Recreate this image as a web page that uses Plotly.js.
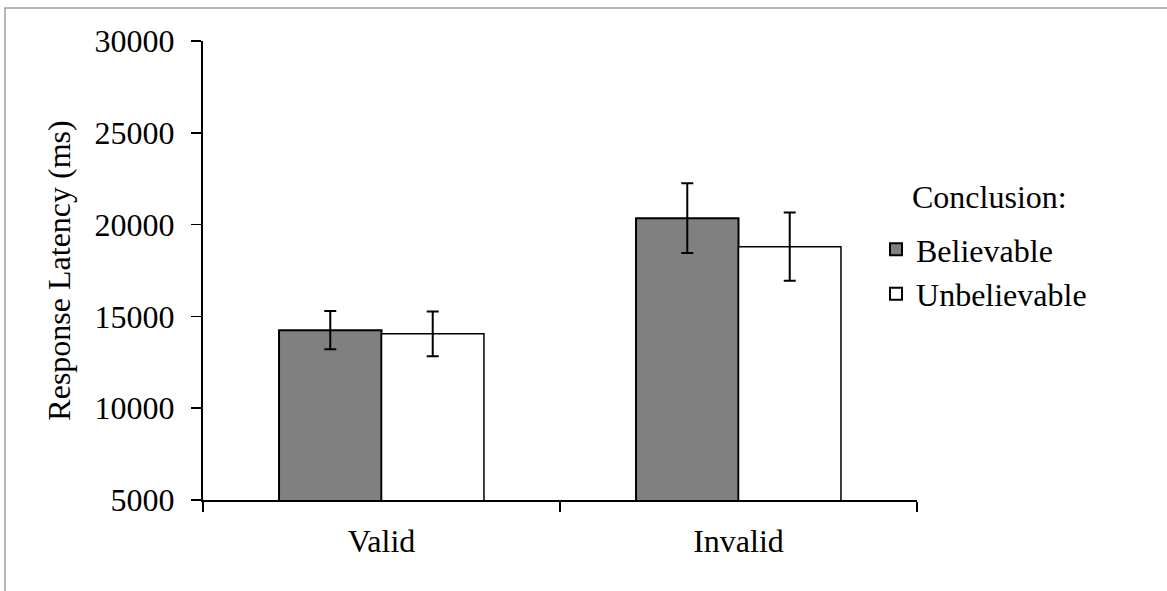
<!DOCTYPE html>
<html>
<head>
<meta charset="utf-8">
<script src="https://cdn.plot.ly/plotly-3.0.1.min.js"></script>
<style>html,body{margin:0;padding:0;background:#fff;}#chart{width:1167px;height:591px;}</style>
</head>
<body>
<div id="chart"></div>
<script>
const categories = ["Valid", "Invalid"];
const believable = [14250, 20350];
const believableErr = [1040, 1900];
const unbelievable = [14050, 18800];
const unbelievableErr = [1220, 1860];
const yTicks = [5000, 10000, 15000, 20000, 25000, 30000];
const legendTitle = "Conclusion:";

const family = "Liberation Serif, Times New Roman, serif";
const font = {family: family, size: 32, color: "#000"};

const traces = [
  {
    type: "bar", name: "Believable", x: categories, y: believable,
    marker: {color: "#808080", line: {color: "#000", width: 2}},
    error_y: {type: "data", array: believableErr, visible: true, color: "#000", thickness: 2, width: 6}
  },
  {
    type: "bar", name: "Unbelievable", x: categories, y: unbelievable,
    marker: {color: "#ffffff", line: {color: "#000", width: 1.5}},
    error_y: {type: "data", array: unbelievableErr, visible: true, color: "#000", thickness: 2, width: 6}
  }
];

const layout = {
  width: 1167, height: 591,
  margin: {l: 203, r: 250, t: 41, b: 91, pad: 0},
  paper_bgcolor: "#fff", plot_bgcolor: "#fff",
  font: font,
  barmode: "group", bargap: 0.426, bargroupgap: 0,
  showlegend: true,
  legend: {
    x: 0.9426, xanchor: "left", y: 0.606, yanchor: "top",
    font: {family: family, size: 32, color: "#000"}, bgcolor: "rgba(0,0,0,0)", traceorder: "normal",
    itemsizing: "constant", tracegroupgap: 0
  },
  annotations: [
    {text: legendTitle, xref: "paper", yref: "paper", x: (910 - 203) / 714, y: (500 - 197) / 459,
     xanchor: "left", yanchor: "middle", showarrow: false, font: {family: family, size: 32, color: "#000"}}
  ],
  xaxis: {
    type: "category", showline: true, linecolor: "#000", linewidth: 2,
    ticks: "outside", tickson: "boundaries", ticklen: 10, tickwidth: 1.5, tickcolor: "#000",
    showgrid: false, zeroline: false, tickfont: {family: family, size: 32, color: "#000"}, ticklabelstandoff: 12
  },
  yaxis: {
    range: [5000, 30000], tickmode: "array", tickvals: yTicks, ticktext: yTicks.map(String),
    showline: true, linecolor: "#000", linewidth: 2,
    ticks: "outside", ticklen: 10, tickwidth: 1.5, tickcolor: "#000", ticklabelstandoff: 10,
    showgrid: false, zeroline: false, tickfont: {family: family, size: 32, color: "#000"},
    title: {text: "Response Latency (ms)", font: {family: family, size: 32, color: "#000"}, standoff: 14}
  },
  shapes: [
    {type: "rect", xref: "paper", yref: "paper", x0: -0.2773, x1: 1.36, y0: -0.25, y1: 1.0719,
     line: {color: "#a0a0a0", width: 1.5}, fillcolor: "rgba(0,0,0,0)", layer: "below"}
  ]
};

Plotly.newPlot("chart", traces, layout, {displayModeBar: false, staticPlot: true});
</script>
</body>
</html>
